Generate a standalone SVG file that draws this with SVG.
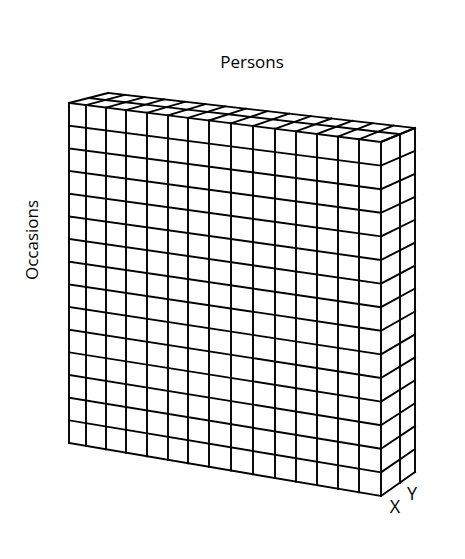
<svg xmlns="http://www.w3.org/2000/svg" width="465" height="559" viewBox="0 0 465 559">
<style>
.g{fill:none;stroke:#000;stroke-width:1.9;stroke-linecap:square;stroke-linejoin:miter}
.t{font-family:"Open Sans","Liberation Sans",sans-serif;font-size:17px;fill:#000}
</style>
<rect width="465" height="559" fill="#fff"/>
<text class="t" x="252" y="68" text-anchor="middle">Persons</text>
<text class="t" transform="translate(38,240) rotate(-90)" text-anchor="middle">Occasions</text>
<text class="t" x="395" y="513" text-anchor="middle" style="font-size:18px">X</text>
<text class="t" x="412" y="500" text-anchor="middle" style="font-size:18px">Y</text>
<g id="front" class="g">
<path d="M69,103V443M86,105.1V445.9M106,107.6V449.3M126,110.1V452.7M147,112.8V456.2M168,115.4V459.8M188,117.9V463.2M209,120.5V466.8M231,123.3V470.5M253,126V474.3M275,128.8V478M296,131.4V481.6M317,134V485.1M338,136.6V488.7M359,139.3V492.3M381,142V496"/>
<path d="M69,103L381,142M69,125.67L381,165.6M69,148.33L381,189.2M69,171L381,212.8M69,193.67L381,236.4M69,216.33L381,260M69,239L381,283.6M69,261.67L381,307.2M69,284.33L381,330.8M69,307L381,354.4M69,329.67L381,378M69,352.33L381,401.6M69,375L381,425.2M69,397.67L381,448.8M69,420.33L381,472.4M69,443L381,496"/>
</g>
<g id="top" class="g">
<path d="M108,93L415,128"/>
<path d="M88.5,98L105.5,100L125.5,102.3L145.5,104.6L166.4,107.1L187.4,109.6L207.4,111.9L228.4,114.3L250.3,116.9L272.3,119.4L294.3,122L315.2,124.4L336.2,126.8L357.1,129.2L378.1,131.7L400,134.2"/>
<path d="M69,103L108,93M86,105.1L124.7,94.9M106,107.6L144.4,97.1M126,110.1L164.1,99.4M147,112.8L184.75,101.8M168,115.4L205.4,104.1M188,117.9L225.1,106.4M209,120.5L245.8,108.7M231,123.3L267.4,111.2M253,126L289.1,113.6M275,128.8L310.7,116.2M296,131.4L331.4,118.5M317,134L352,120.8M338,136.6L372.7,123.2M359,139.3L393.4,125.6M381,142L415,128"/>
</g>
<g id="side" class="g">
<path d="M400,134.2V483M415,128V472"/>
<path d="M381,142L415,128M381,165.6L415,150.93M381,189.2L415,173.87M381,212.8L415,196.8M381,236.4L415,219.73M381,260L415,242.67M381,283.6L415,265.6M381,307.2L415,288.53M381,330.8L415,311.47M381,354.4L415,334.4M381,378L415,357.33M381,401.6L415,380.27M381,425.2L415,403.2M381,448.8L415,426.13M381,472.4L415,449.07M381,496L415,472"/>
</g>
</svg>
